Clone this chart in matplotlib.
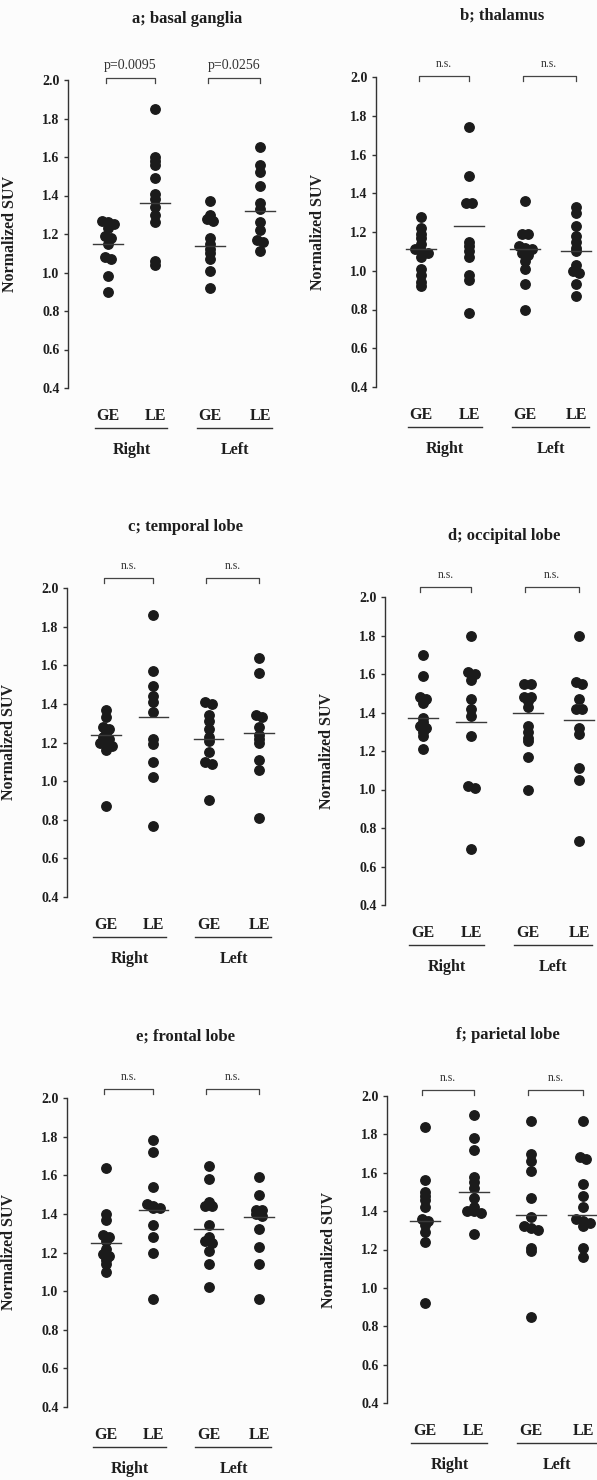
import numpy as np
import matplotlib
matplotlib.use('Agg')
from matplotlib import pyplot as plt
from matplotlib import transforms

plt.rcParams['font.family'] = ['Liberation Serif', 'DejaVu Serif']

# ---- data ----
titles = ['a; basal ganglia', 'b; thalamus', 'c; temporal lobe',
          'd; occipital lobe', 'e; frontal lobe', 'f; parietal lobe']
pvals = [['p=0.0095', 'p=0.0256'], ['n.s.', 'n.s.'], ['n.s.', 'n.s.'],
         ['n.s.', 'n.s.'], ['n.s.', 'n.s.'], ['n.s.', 'n.s.']]
group_labels = ['GE', 'LE', 'GE', 'LE']
side_labels = ['Right', 'Left']
yticks = [0.4, 0.6, 0.8, 1.0, 1.2, 1.4, 1.6, 1.8, 2.0]

# order in each list: GE right, LE right, GE left, LE left
basal = [[1.27, 1.26, 1.25, 1.23, 1.19, 1.18, 1.15, 1.08, 1.07, 0.98, 0.90],
         [1.85, 1.60, 1.58, 1.56, 1.49, 1.41, 1.38, 1.34, 1.30, 1.26, 1.06, 1.04],
         [1.37, 1.30, 1.28, 1.27, 1.18, 1.15, 1.12, 1.10, 1.07, 1.01, 0.92],
         [1.65, 1.56, 1.52, 1.45, 1.36, 1.33, 1.26, 1.22, 1.17, 1.16, 1.11]]
basal_mean = [1.15, 1.36, 1.14, 1.32]

thalamus = [[1.28, 1.22, 1.19, 1.17, 1.14, 1.11, 1.10, 1.09, 1.07, 1.01, 0.98, 0.94, 0.92],
            [1.74, 1.49, 1.35, 1.35, 1.15, 1.13, 1.10, 1.07, 0.98, 0.95, 0.78],
            [1.36, 1.19, 1.19, 1.13, 1.12, 1.11, 1.09, 1.08, 1.05, 1.01, 0.93, 0.80],
            [1.33, 1.30, 1.23, 1.18, 1.15, 1.12, 1.10, 1.03, 1.00, 0.99, 0.93, 0.87]]
thalamus_mean = [1.11, 1.23, 1.11, 1.10]

temporal = [[1.37, 1.33, 1.28, 1.27, 1.25, 1.23, 1.22, 1.20, 1.19, 1.18, 1.16, 0.87],
            [1.86, 1.57, 1.49, 1.44, 1.41, 1.36, 1.22, 1.19, 1.10, 1.02, 0.77],
            [1.41, 1.40, 1.34, 1.31, 1.27, 1.23, 1.21, 1.15, 1.10, 1.09, 0.90],
            [1.64, 1.56, 1.34, 1.33, 1.28, 1.24, 1.22, 1.20, 1.11, 1.06, 0.81]]
temporal_mean = [1.24, 1.33, 1.22, 1.25]

occipital = [[1.70, 1.59, 1.48, 1.47, 1.45, 1.37, 1.35, 1.33, 1.32, 1.30, 1.28, 1.21],
             [1.80, 1.61, 1.60, 1.57, 1.47, 1.42, 1.38, 1.28, 1.02, 1.01, 0.69],
             [1.55, 1.55, 1.48, 1.48, 1.46, 1.43, 1.33, 1.30, 1.27, 1.25, 1.17, 1.00],
             [1.80, 1.56, 1.55, 1.47, 1.42, 1.42, 1.32, 1.29, 1.11, 1.05, 0.73]]
occipital_mean = [1.37, 1.35, 1.40, 1.36]

frontal = [[1.64, 1.40, 1.37, 1.29, 1.28, 1.26, 1.22, 1.19, 1.18, 1.16, 1.14, 1.10],
           [1.78, 1.72, 1.54, 1.45, 1.44, 1.43, 1.43, 1.34, 1.28, 1.20, 0.96],
           [1.65, 1.58, 1.46, 1.44, 1.44, 1.34, 1.28, 1.26, 1.25, 1.21, 1.14, 1.02],
           [1.59, 1.50, 1.42, 1.42, 1.40, 1.39, 1.32, 1.23, 1.14, 0.96]]
frontal_mean = [1.25, 1.42, 1.32, 1.385]

parietal = [[1.84, 1.56, 1.50, 1.48, 1.46, 1.42, 1.36, 1.35, 1.33, 1.29, 1.24, 0.92],
            [1.90, 1.78, 1.72, 1.58, 1.55, 1.52, 1.47, 1.42, 1.40, 1.40, 1.39, 1.28],
            [1.87, 1.70, 1.66, 1.61, 1.47, 1.37, 1.32, 1.31, 1.30, 1.21, 1.19, 0.85],
            [1.87, 1.68, 1.67, 1.54, 1.48, 1.42, 1.36, 1.35, 1.34, 1.32, 1.21, 1.16]]
parietal_mean = [1.35, 1.50, 1.38, 1.38]

regions = [basal, thalamus, temporal, occipital, frontal, parietal]
region_means = [basal_mean, thalamus_mean, temporal_mean,
                occipital_mean, frontal_mean, parietal_mean]

# ---- layout (pixels): y-axis x, y of 2.0, y of 0.4, first / last group x, bracket gap ----
W, H, DPI = 597, 1480, 100
layout = [(68, 80, 388, 108, 260, 2),
          (376, 77, 387, 421, 576, 1),
          (67, 588, 897, 106, 259, 10),
          (385, 597, 905, 423, 579, 10),
          (67, 1098, 1407, 106, 259, 9),
          (387, 1096, 1403, 425, 583, 6)]
xpos = [1.0, 1.96, 3.08, 4.1]
PT = 72.0 / DPI

DOT = '#1b1b1b'
TXT = '#1e1e1e'
LINE = '#3a3a3a'


def dodge(vals, thr=0.012, step=0.13):
    # put near-equal values side by side, symmetric around the column
    v = np.asarray(vals, dtype=float)
    order = np.argsort(-v)
    offs = np.zeros(len(v))
    clusters = [[order[0]]]
    for i in order[1:]:
        if abs(v[clusters[-1][-1]] - v[i]) < thr and len(clusters[-1]) < 3:
            clusters[-1].append(i)
        else:
            clusters.append([i])
    for cl in clusters:
        n = len(cl)
        for k, j in enumerate(cl):
            offs[j] = (k - (n - 1) / 2.0) * step
    return offs


fig = plt.figure(figsize=(W / DPI, H / DPI), dpi=DPI)
fig.patch.set_facecolor('#fcfcfc')

for r in range(6):
    ax_x, top, bot, g1, g4, bgap = layout[r]
    s = (g4 - g1) / (xpos[-1] - xpos[0])
    x0 = xpos[0] - (g1 - ax_x) / s
    x1 = xpos[-1] + 35 / s
    width = (x1 - x0) * s
    ax = fig.add_axes([ax_x / W, 1 - bot / H, width / W, (bot - top) / H])
    ax.set_facecolor('none')
    ax.set_xlim(x0, x1)
    ax.set_ylim(0.4, 2.0)

    for g in range(4):
        vals = regions[r][g]
        offs = dodge(vals)
        ax.plot(xpos[g] + offs, vals, 'o', ms=6.8, color=DOT, mec=DOT,
                clip_on=False, zorder=3)
        m = region_means[r][g]
        ax.plot([xpos[g] - 0.3, xpos[g] + 0.3], [m, m], '-', lw=1.0,
                color=LINE, zorder=4, clip_on=False)

    ax.spines['top'].set_visible(False)
    ax.spines['right'].set_visible(False)
    ax.spines['bottom'].set_visible(False)
    ax.spines['left'].set_linewidth(1.0)
    ax.spines['left'].set_color('#333333')
    ax.set_xticks([])
    ax.set_yticks(yticks)
    ax.set_yticklabels(['%.1f' % t for t in yticks], fontsize=10,
                       fontweight='bold', color=TXT)
    ax.tick_params(axis='y', direction='out', length=3, width=1,
                   color='#333333', pad=3)
    ax.set_ylabel('Normalized SUV', fontsize=11.5, fontweight='bold', color=TXT)
    ax.yaxis.set_label_coords(-50 / width, 0.5)

    blend = transforms.blended_transform_factory(ax.transData, ax.transAxes)

    def shifted(dy_px):
        return transforms.offset_copy(blend, fig=fig, x=0, y=dy_px * PT,
                                      units='points')

    # title
    ax.text(2.62, 1, titles[r], transform=shifted(61), ha='center',
            va='center', fontsize=12, fontweight='bold', color=TXT)

    # brackets with p-values
    tick_len = 5 / (bot - top)
    for k in range(2):
        xa, xb = xpos[2 * k] - 0.05, xpos[2 * k + 1]
        ax.plot([xa, xa, xb, xb], [1 - tick_len, 1, 1, 1 - tick_len], '-',
                lw=0.9, color='#444444', transform=shifted(bgap),
                clip_on=False)
        lab = pvals[r][k]
        fs = 10 if lab.startswith('p') else 8.5
        ax.text((xa + xb) / 2, 1, lab, transform=shifted(bgap + 12),
                ha='center', va='center', fontsize=fs, color='#333333')

    # group labels, underline, side labels
    for g in range(4):
        ax.text(xpos[g], 0, group_labels[g], transform=shifted(-28),
                ha='center', va='center', fontsize=11.5, fontweight='bold',
                color=TXT)
    for k in range(2):
        xa, xb = xpos[2 * k] - 0.27, xpos[2 * k + 1] + 0.25
        ax.plot([xa, xb], [0, 0], '-', lw=1.0, color='#333333',
                transform=shifted(-40), clip_on=False)
        ax.text((xpos[2 * k] + xpos[2 * k + 1]) / 2, 0, side_labels[k],
                transform=shifted(-62), ha='center', va='center',
                fontsize=11.5, fontweight='bold', color=TXT)

fig.savefig('out.png', dpi=DPI, facecolor=fig.get_facecolor())
